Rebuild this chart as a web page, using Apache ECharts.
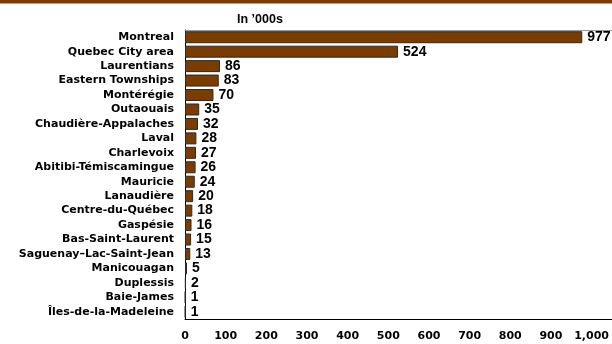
<!DOCTYPE html>
<html>
<head>
<meta charset="utf-8">
<script src="https://cdn.jsdelivr.net/npm/echarts@6/dist/echarts.min.js"></script>
<style>
  html, body { margin: 0; padding: 0; background: #fff; }
  #chart { width: 612px; height: 344px; }
</style>
</head>
<body>
<div id="chart"></div>
<script>
// Regions of Quebec, in thousands
const regions = [
  'Montreal', 'Quebec City area', 'Laurentians', 'Eastern Townships', 'Montérégie',
  'Outaouais', 'Chaudière-Appalaches', 'Laval', 'Charlevoix', 'Abitibi-Témiscamingue',
  'Mauricie', 'Lanaudière', 'Centre-du-Québec', 'Gaspésie', 'Bas-Saint-Laurent',
  'Saguenay–Lac-Saint-Jean', 'Manicouagan', 'Duplessis', 'Baie-James', 'Îles-de-la-Madeleine'
];
const values = [977, 524, 86, 83, 70, 35, 32, 28, 27, 26, 24, 20, 18, 16, 15, 13, 5, 2, 1, 1];
const titleText = 'In \u2019000s';

const BROWN = '#7b3c00';
const chart = echarts.init(document.getElementById('chart'), null, { renderer: 'canvas' });

chart.setOption({
  animation: false,
  backgroundColor: '#ffffff',
  title: {
    text: titleText,
    left: 237,
    top: 13,
    padding: 0,
    textStyle: { fontFamily: 'Liberation Sans', fontWeight: 'bold', fontSize: 12.5, color: '#000' }
  },
  graphic: [
    { type: 'rect', shape: { x: 0, y: 0, width: 612, height: 3.5 }, style: { fill: BROWN } }
  ],
  grid: { left: 185, top: 30, right: 0, bottom: 25, containLabel: false },
  xAxis: [
    {
      type: 'value',
      position: 'bottom',
      min: 0,
      max: 1050,
      interval: 100,
      axisLine: { show: true, lineStyle: { color: '#000', width: 1 } },
      axisTick: { show: false },
      splitLine: { show: false },
      axisLabel: {
        showMaxLabel: false,
        margin: 12,
        fontFamily: 'DejaVu Sans',
        fontWeight: 'bold',
        fontSize: 11,
        color: '#000',
        formatter: v => v.toLocaleString('en-US')
      }
    },
    {
      type: 'value',
      position: 'top',
      min: 0,
      max: 1050,
      axisLine: { show: true, lineStyle: { color: '#999', width: 1 } },
      axisTick: { show: false },
      splitLine: { show: false },
      axisLabel: { show: false }
    }
  ],
  yAxis: {
    type: 'category',
    data: regions,
    inverse: true,
    axisLine: { show: true, lineStyle: { color: '#000', width: 1 } },
    axisTick: { show: false },
    axisLabel: {
      margin: 11,
      fontFamily: 'DejaVu Sans',
      fontWeight: 'bold',
      fontSize: 11,
      color: '#000'
    }
  },
  series: [{
    type: 'bar',
    data: values,
    xAxisIndex: 0,
    barWidth: 12,
    itemStyle: { color: BROWN, borderColor: '#2a2a2a', borderWidth: 1 },
    label: {
      show: true,
      position: 'right',
      distance: 5,
      fontFamily: 'Liberation Sans',
      fontWeight: 'bold',
      fontSize: 14,
      color: '#000'
    }
  }]
});
</script>
</body>
</html>
